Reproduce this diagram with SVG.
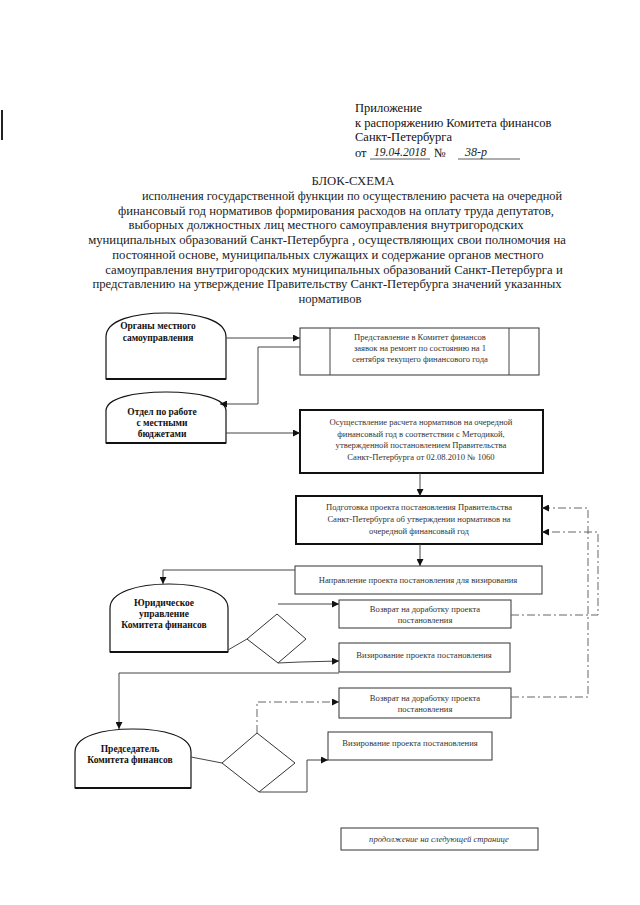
<svg xmlns="http://www.w3.org/2000/svg" width="640" height="905" viewBox="0 0 640 905">
<style>
  .hdr { font-family: "Liberation Serif", "Times New Roman", serif; font-size: 12.5px; fill: #111; }
  .hand { font-family: "Liberation Serif", serif; font-style: italic; font-size: 12px; fill: #222; }
  .body { font-family: "Liberation Serif", "Times New Roman", serif; font-size: 12.7px; fill: #222; text-anchor: middle; }
  .nlab { font-family: "Liberation Serif", "Times New Roman", serif; font-size: 9.5px; font-weight: bold; fill: #111; text-anchor: middle; }
  .blab { font-family: "Liberation Serif", "Times New Roman", serif; font-size: 8.6px; fill: #333; text-anchor: middle; }
  .dome { fill: #fff; stroke: #111; stroke-width: 1.2; }
  .base { stroke: #111; stroke-width: 2; }
  .box { fill: #fff; stroke: #333; stroke-width: 1; }
  .boxb { fill: #fff; stroke: #111; stroke-width: 2; }
  .dia { fill: #fff; stroke: #333; stroke-width: 1; }
  .ln { fill: none; stroke: #444; stroke-width: 1; }
  .dd { fill: none; stroke: #666; stroke-width: 1; stroke-dasharray: 8 3 2 3; }
</style>
<defs>
  <marker id="ah" viewBox="0 0 10 10" refX="10" refY="5" markerWidth="7" markerHeight="7" orient="auto" markerUnits="userSpaceOnUse">
    <path d="M0,0 L10,5 L0,10 Z" fill="#111"/>
  </marker>
</defs>

<rect width="640" height="905" fill="#fff"/>
<line x1="2" y1="110" x2="2" y2="140" stroke="#222" stroke-width="2"/>

<g id="header">
  <text class="hdr" x="355" y="112">Приложение</text>
  <text class="hdr" x="355" y="127">к распоряжению Комитета финансов</text>
  <text class="hdr" x="355" y="141">Санкт-Петербурга</text>
  <text class="hdr" x="355" y="157">от</text>
  <text class="hand" x="374" y="156" textLength="52" lengthAdjust="spacingAndGlyphs">19.04.2018</text>
  <line x1="370" y1="159" x2="430" y2="159" stroke="#333" stroke-width="0.8"/>
  <text class="hdr" x="434" y="157">№</text>
  <text class="hand" x="465" y="156">38-р</text>
  <line x1="458" y1="159" x2="520" y2="159" stroke="#333" stroke-width="0.8"/>
</g>

<g id="title">
  <text class="body" x="353" y="185">БЛОК-СХЕМА</text>
  <text class="body" x="142" y="200" style="text-anchor:start" textLength="420" lengthAdjust="spacingAndGlyphs">исполнения государственной функции по осуществлению расчета на очередной</text>
  <text class="body" x="336" y="215">финансовый год нормативов формирования расходов на оплату труда депутатов,</text>
  <text class="body" x="326" y="229">выборных должностных лиц местного самоуправления внутригородских</text>
  <text class="body" x="327" y="244">муниципальных образований Санкт-Петербурга , осуществляющих свои полномочия на</text>
  <text class="body" x="328" y="259">постоянной основе, муниципальных служащих и содержание органов местного</text>
  <text class="body" x="334" y="274">самоуправления внутригородских муниципальных образований Санкт-Петербурга и</text>
  <text class="body" x="327" y="288">представлению на утверждение Правительству Санкт-Петербурга значений указанных</text>
  <text class="body" x="330" y="303">нормативов</text>
</g>

<g id="n-organy">
  <path class="dome" d="M106,379 L106,337 C106,320 134,313 166,313 C198,313 226,320 226,337 L226,379 Z"/>
  <line class="base" x1="106" y1="379" x2="226" y2="379"/>
  <text class="nlab" x="158" y="329">Органы местного</text>
  <text class="nlab" x="158" y="341">самоуправления</text>
</g>

<g id="n-otdel">
  <path class="dome" d="M106,443 L106,411 C106,398 134,392 166,392 C198,392 226,398 226,411 L226,443 Z"/>
  <line class="base" x1="106" y1="443" x2="226" y2="443"/>
  <text class="nlab" x="162" y="415">Отдел по работе</text>
  <text class="nlab" x="162" y="426">с местными</text>
  <text class="nlab" x="162" y="437">бюджетами</text>
</g>

<g id="n-yur">
  <path class="dome" d="M110,652 L110,608 C110,592 138,584 169,584 C200,584 228,592 228,608 L228,652 Z"/>
  <line class="base" x1="110" y1="652" x2="228" y2="652"/>
  <text class="nlab" x="164" y="606">Юридическое</text>
  <text class="nlab" x="164" y="617">управление</text>
  <text class="nlab" x="164" y="628">Комитета финансов</text>
</g>

<g id="n-pred">
  <path class="dome" d="M75,788 L75,752 C75,736 103,729 133,729 C163,729 191,736 191,752 L191,788 Z"/>
  <line class="base" x1="75" y1="788" x2="191" y2="788"/>
  <text class="nlab" x="130" y="752">Председатель</text>
  <text class="nlab" x="130" y="763">Комитета финансов</text>
</g>

<g id="b-predst">
  <rect class="box" x="300" y="328" width="239" height="47"/>
  <line class="ln" x1="330" y1="328" x2="330" y2="375"/>
  <line class="ln" x1="509" y1="328" x2="509" y2="375"/>
  <text class="blab" x="420" y="340">Представление в Комитет финансов</text>
  <text class="blab" x="420" y="351">заявок на ремонт по состоянию на 1</text>
  <text class="blab" x="420" y="362">сентября текущего финансового года</text>
</g>

<g id="b-osush">
  <rect class="boxb" x="300" y="410" width="243" height="63"/>
  <text class="blab" x="421" y="425">Осуществление расчета нормативов на очередной</text>
  <text class="blab" x="421" y="437">финансовый год в соответствии с Методикой,</text>
  <text class="blab" x="421" y="448">утвержденной постановлением Правительства</text>
  <text class="blab" x="421" y="460">Санкт-Петербурга от 02.08.2010 № 1060</text>
</g>

<g id="b-podg">
  <rect class="boxb" x="296" y="496" width="246" height="48"/>
  <text class="blab" x="419" y="510">Подготовка проекта постановления Правительства</text>
  <text class="blab" x="419" y="522">Санкт-Петербурга об утверждении нормативов на</text>
  <text class="blab" x="419" y="534">очередной финансовый год</text>
</g>

<g id="b-napr">
  <rect class="box" x="295" y="566" width="247" height="28"/>
  <text class="blab" x="418" y="583">Направление проекта постановления для визирования</text>
</g>

<g id="b-vozv1">
  <rect class="box" x="339" y="600" width="172" height="28"/>
  <text class="blab" x="425" y="612">Возврат на доработку проекта</text>
  <text class="blab" x="425" y="623">постановления</text>
</g>

<g id="b-viz1">
  <rect class="box" x="339" y="643" width="171" height="29"/>
  <text class="blab" x="424" y="658">Визирование проекта постановления</text>
</g>

<g id="b-vozv2">
  <rect class="box" x="339" y="688" width="172" height="30"/>
  <text class="blab" x="425" y="701">Возврат на доработку проекта</text>
  <text class="blab" x="425" y="712">постановления</text>
</g>

<g id="b-viz2">
  <rect class="box" x="328" y="732" width="164" height="28"/>
  <text class="blab" x="410" y="746">Визирование проекта постановления</text>
</g>

<g id="b-cont">
  <rect class="box" x="341" y="828" width="197" height="22"/>
  <text class="blab" x="439" y="842" style="font-style:italic">продолжение на следующей странице</text>
</g>

<g id="d-yur">
  <polygon class="dia" points="247,639 277,614 306,639 278,663"/>
</g>
<g id="d-pred">
  <polygon class="dia" points="222,763 257,733 295,763 259,792"/>
</g>

<g id="connectors">
  <line class="ln" x1="226" y1="338" x2="300" y2="338" marker-end="url(#ah)"/>
  <polyline class="ln" points="300,347 258,347 258,404 220,404" marker-end="url(#ah)"/>
  <line class="ln" x1="226" y1="433" x2="300" y2="433" marker-end="url(#ah)"/>
  <line class="ln" x1="420" y1="473" x2="420" y2="496" marker-end="url(#ah)"/>
  <line class="ln" x1="420" y1="544" x2="420" y2="566" marker-end="url(#ah)"/>
  <polyline class="ln" points="295,570 163,570 163,584" marker-end="url(#ah)"/>
  <line class="ln" x1="228" y1="650" x2="247" y2="639"/>
  <line class="ln" x1="278" y1="604" x2="339" y2="604" marker-end="url(#ah)"/>
  <polyline class="ln" points="278,663 300,662 339,661" marker-end="url(#ah)"/>
  <polyline class="ln" points="339,673 119,673 119,729" marker-end="url(#ah)"/>
  <line class="ln" x1="191" y1="757" x2="222" y2="763"/>
  <polyline class="dd" points="257,733 257,702 339,702" marker-end="url(#ah)"/>
  <polyline class="ln" points="259,792 307,792 307,760 328,760" marker-end="url(#ah)"/>
  <polyline class="dd" points="511,615 598,615 598,532 542,532" marker-end="url(#ah)"/>
  <polyline class="dd" points="511,697 588,697 588,508 542,508" marker-end="url(#ah)"/>
</g>
</svg>
